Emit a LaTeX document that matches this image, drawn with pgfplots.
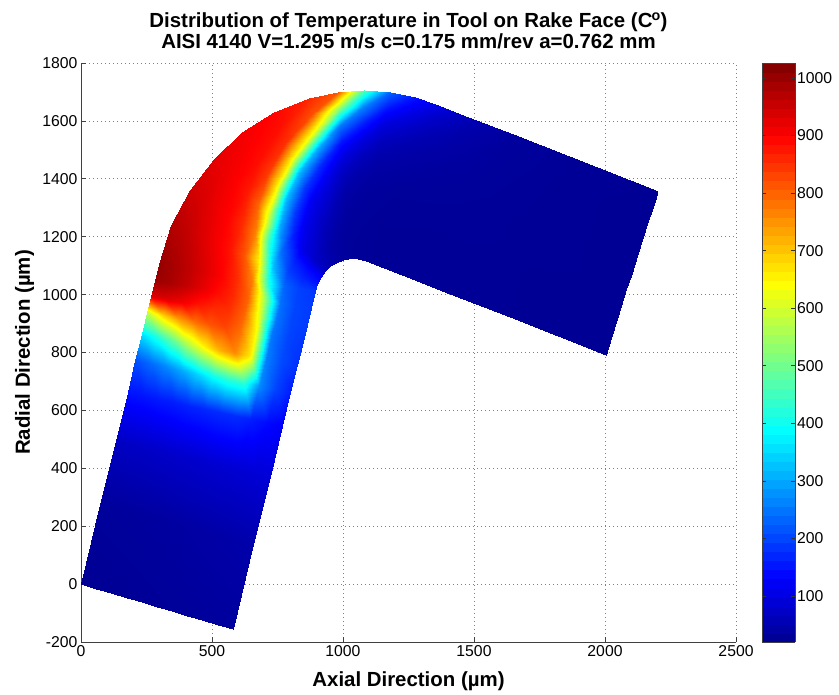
\documentclass[border=0pt]{standalone}
\usepackage{fontspec}
\setmainfont{Liberation Sans}
\usepackage{pgfplots}
\usepackage{pgfplotstable}
\pgfplotsset{compat=1.18}
\pgfplotsset{colormap={matjet}{rgb(0cm)=(0,0,0.5625) rgb(7cm)=(0,0,1) rgb(23cm)=(0,1,1) rgb(39cm)=(1,1,0) rgb(55cm)=(1,0,0) rgb(63cm)=(0.5,0,0)}}

\pgfplotstableread{
x y T
0 0 25
58.0 -15.5 25
115.9 -31.1 26
173.9 -46.6 27
231.8 -62.1 28
289.8 -77.7 29
347.8 -93.2 30
405.7 -108.7 31
463.7 -124.2 32
521.6 -139.8 33
579.6 -155.3 34
74.1 276.6 32
132.5 262.6 33
190.9 248.7 34
249.2 234.7 35
307.6 220.7 36
366.0 206.8 38
424.4 192.8 40
482.8 178.8 42
541.1 164.8 44
599.5 150.9 46
657.9 136.9 48
133.4 497.8 72
192.1 485.1 74
250.8 472.4 76
309.5 459.7 78
368.2 447.0 80
427.0 434.3 82
485.7 421.5 84
544.4 408.8 86
603.1 396.1 88
661.8 383.4 90
720.5 370.7 92
177.8 663.7 150
236.8 651.9 152
295.7 640.2 156
354.7 628.4 160
413.7 616.6 165
472.7 604.9 170
531.6 593.1 175
590.6 581.3 175
649.6 569.5 160
708.5 557.8 140
767.5 546.0 125
207.5 774.3 210
266.6 763.2 240
325.8 752.0 270
384.9 740.9 305
444.0 729.7 350
503.2 718.6 400
562.3 707.5 430
621.4 696.3 430
680.5 685.2 270
739.7 674.0 200
798.8 662.9 160
231.2 862.8 360
290.5 852.2 415
349.7 841.5 490
409.0 830.9 570
468.3 820.2 650
527.6 809.6 720
586.8 798.9 760
646.1 788.3 660
705.4 777.7 260
764.6 767.0 205
823.9 756.4 180
251.9 940.3 590
311.3 930.1 690
370.7 919.9 750
430.1 909.7 790
489.5 899.5 815
548.9 889.2 830
608.2 879.0 790
667.6 868.8 640
727.0 858.6 250
786.4 848.4 200
845.8 838.2 185
266.8 995.6 930
326.3 985.7 930
385.7 975.8 910
445.2 965.9 880
504.7 956.0 860
564.2 946.1 850
623.6 936.2 800
683.1 926.3 600
742.6 916.4 250
802.0 906.5 200
861.5 896.6 190
281.6 1050.9 1000
341.2 1041.3 985
400.7 1031.7 960
460.3 1022.2 925
519.8 1012.6 890
579.4 1003.0 860
638.9 993.4 800
698.5 983.8 560
758.0 974.3 245
817.6 964.7 200
877.1 955.1 190
296.6 1106.1 1005
356.2 1096.8 985
415.8 1087.6 960
475.4 1078.3 930
535.0 1069.1 900
594.7 1059.8 855
654.3 1050.5 770
713.9 1041.3 420
773.5 1032.0 230
833.1 1022.8 195
892.7 1013.5 185
344.9 1238.8 975
400.6 1218.7 960
456.3 1198.7 935
511.9 1178.6 910
567.6 1158.5 880
623.3 1138.5 815
679.0 1118.4 650
734.7 1098.3 320
790.3 1078.2 195
846.0 1058.2 165
901.7 1038.1 150
415.5 1361.1 945
465.4 1331.1 935
515.3 1301.0 915
565.3 1271.0 895
615.2 1240.9 855
665.1 1210.9 770
715.0 1180.9 450
764.9 1150.8 240
814.9 1120.8 160
864.8 1090.7 135
914.7 1060.7 125
506.2 1469.3 925
548.7 1430.5 915
591.3 1391.6 900
633.8 1352.8 875
676.3 1313.9 800
718.9 1275.1 590
761.4 1236.2 300
803.9 1197.3 165
846.4 1158.5 105
889.0 1119.6 80
931.5 1080.8 70
614.4 1560.0 910
648.1 1513.8 900
681.8 1467.5 885
715.6 1421.3 840
749.3 1375.0 650
783.0 1328.8 320
816.7 1282.6 185
850.4 1236.3 115
884.2 1190.1 85
917.9 1143.8 62
951.6 1097.6 55
736.7 1630.6 895
760.5 1578.6 885
784.2 1526.6 850
808.0 1474.6 650
831.7 1422.6 320
855.5 1370.6 185
879.2 1318.6 115
903.0 1266.6 85
926.7 1214.6 60
950.5 1162.6 45
974.2 1110.6 42
869.4 1678.9 860
882.3 1623.0 820
895.3 1567.0 620
908.2 1511.1 300
921.2 1455.2 170
934.1 1399.3 110
947.0 1343.3 80
960.0 1287.4 56
972.9 1231.5 42
985.9 1175.5 36
998.8 1119.6 34
980.3 1700.5 810
984.2 1642.8 520
988.1 1585.1 255
992.0 1527.4 150
995.9 1469.7 95
999.8 1412.1 65
1003.7 1354.4 46
1007.6 1296.7 38
1011.5 1239.0 34
1015.4 1181.3 32
1019.3 1123.6 31
1079.0 1706.5 470
1074.9 1648.3 260
1070.7 1590.1 160
1066.6 1531.9 100
1062.4 1473.8 66
1058.3 1415.6 47
1054.2 1357.4 38
1050.0 1299.2 34
1045.9 1241.1 31
1041.7 1182.9 30
1037.6 1124.7 29
1177.7 1700.5 230
1165.5 1642.8 150
1153.3 1585.1 95
1141.2 1527.4 64
1129.0 1469.7 47
1116.8 1412.1 38
1104.6 1354.4 33
1092.4 1296.7 31
1080.3 1239.0 30
1068.1 1181.3 29
1055.9 1123.6 29
1275.0 1682.4 150
1254.9 1626.2 105
1234.8 1570.0 72
1214.7 1513.7 52
1194.6 1457.5 42
1174.5 1401.3 36
1154.3 1345.1 32
1134.2 1288.9 30
1114.1 1232.6 29
1094.0 1176.4 29
1073.9 1120.2 28
1349.4 1660.0 110
1323.2 1605.6 78
1297.1 1551.2 57
1270.9 1496.8 45
1244.7 1442.4 38
1218.6 1388.1 33
1192.4 1333.7 30
1166.2 1279.3 29
1140.0 1224.9 28
1113.9 1170.5 28
1087.7 1116.1 28
1477.3 1614.7 60
1452.1 1560.0 48
1426.8 1505.3 41
1401.6 1450.5 36
1376.3 1395.8 33
1351.1 1341.1 31
1325.8 1286.4 29
1300.6 1231.7 28
1275.3 1176.9 28
1250.1 1122.2 28
1224.8 1067.5 28
1647.8 1554.3 35
1623.8 1499.1 33
1599.8 1444.0 32
1575.8 1388.8 31
1551.8 1333.7 30
1527.8 1278.5 29
1503.7 1223.3 29
1479.7 1168.2 28
1455.7 1113.0 28
1431.7 1057.9 28
1407.7 1002.7 28
1861.0 1478.8 28
1838.5 1423.1 28
1816.1 1367.4 27
1793.6 1311.6 27
1771.1 1255.9 27
1748.7 1200.2 27
1726.2 1144.5 27
1703.7 1088.8 26
1681.2 1033.0 26
1658.8 977.3 26
1636.3 921.6 26
2202 1358.0 25
2182 1301.4 25
2162 1244.8 25
2142 1188.2 25
2122 1131.6 25
2102 1075.0 25
2082 1018.4 25
2062 961.8 25
2042 905.2 25
2022 848.6 25
2002 792.0 25
}\tooldata

\begin{document}
\begin{tikzpicture}
\useasboundingbox (0,0) rectangle (839bp,695bp);
\begin{axis}[
  at={(81bp,53bp)}, anchor=south west,
  scale only axis, width=655bp, height=579bp,
  xmin=0, xmax=2500, ymin=-200, ymax=1800,
  xtick={0,500,...,2500}, ytick={-200,0,...,1800},
  axis x line*=bottom, axis y line*=left,
  axis line style={black!75, line width=0.6bp, -},
  tick align=inside, major tick length=5bp,
  tick style={black!75, line width=0.6bp},
  grid=major,
  major grid style={black!50, line width=0.7bp, dash pattern=on 0.8bp off 3.2bp},
  scaled ticks=false,
  /pgf/number format/assume math mode=true,
  /pgf/number format/1000 sep={},
  ticklabel style={font=\fontsize{15.8}{18}\selectfont},
  title={Distribution of Temperature in Tool on Rake Face (C\kern-0.05em\textsuperscript{o})\\AISI 4140 V=1.295 m/s c=0.175 mm/rev a=0.762 mm},
  title style={font=\bfseries\fontsize{20.5}{20.5}\selectfont, align=center, at={(axis description cs:0.5,1)}, anchor=south, inner sep=0pt, yshift=8bp},
  xlabel={Axial Direction (µm)},
  xlabel style={font=\bfseries\fontsize{20.5}{22}\selectfont, at={(axis description cs:0.5,-0.076)}, anchor=base},
  ylabel={Radial Direction (µm)},
  ylabel style={font=\bfseries\fontsize{20.5}{22}\selectfont, at={(axis description cs:-0.0779,0.5)}, anchor=base},
  colormap name=matjet,
  point meta min=20, point meta max=1026,
  colorbar sampled,
  colorbar style={
    at={(parent axis.north east)}, anchor=north west, xshift=17.5bp,
    scale only axis, width=33bp, height=579bp,
    samples=65,
    ytick={100,200,...,1000},
    ytick pos=both, yticklabel pos=right,
    tick align=inside, major tick length=4bp,
    tick style={black!80, line width=0.6bp},
    axis line style={black!75, line width=0.6bp},
    /pgf/number format/assume math mode=true,
    /pgf/number format/1000 sep={},
    scaled ticks=false,
    yticklabel style={font=\fontsize{15.8}{18}\selectfont, inner sep=2bp},
  },
]
\addplot[surf, shader=interp, mesh/rows=25, mesh/cols=11, point meta=explicit]
  table[x=x, y=y, meta=T] {\tooldata};
\end{axis}
\end{tikzpicture}
\end{document}
